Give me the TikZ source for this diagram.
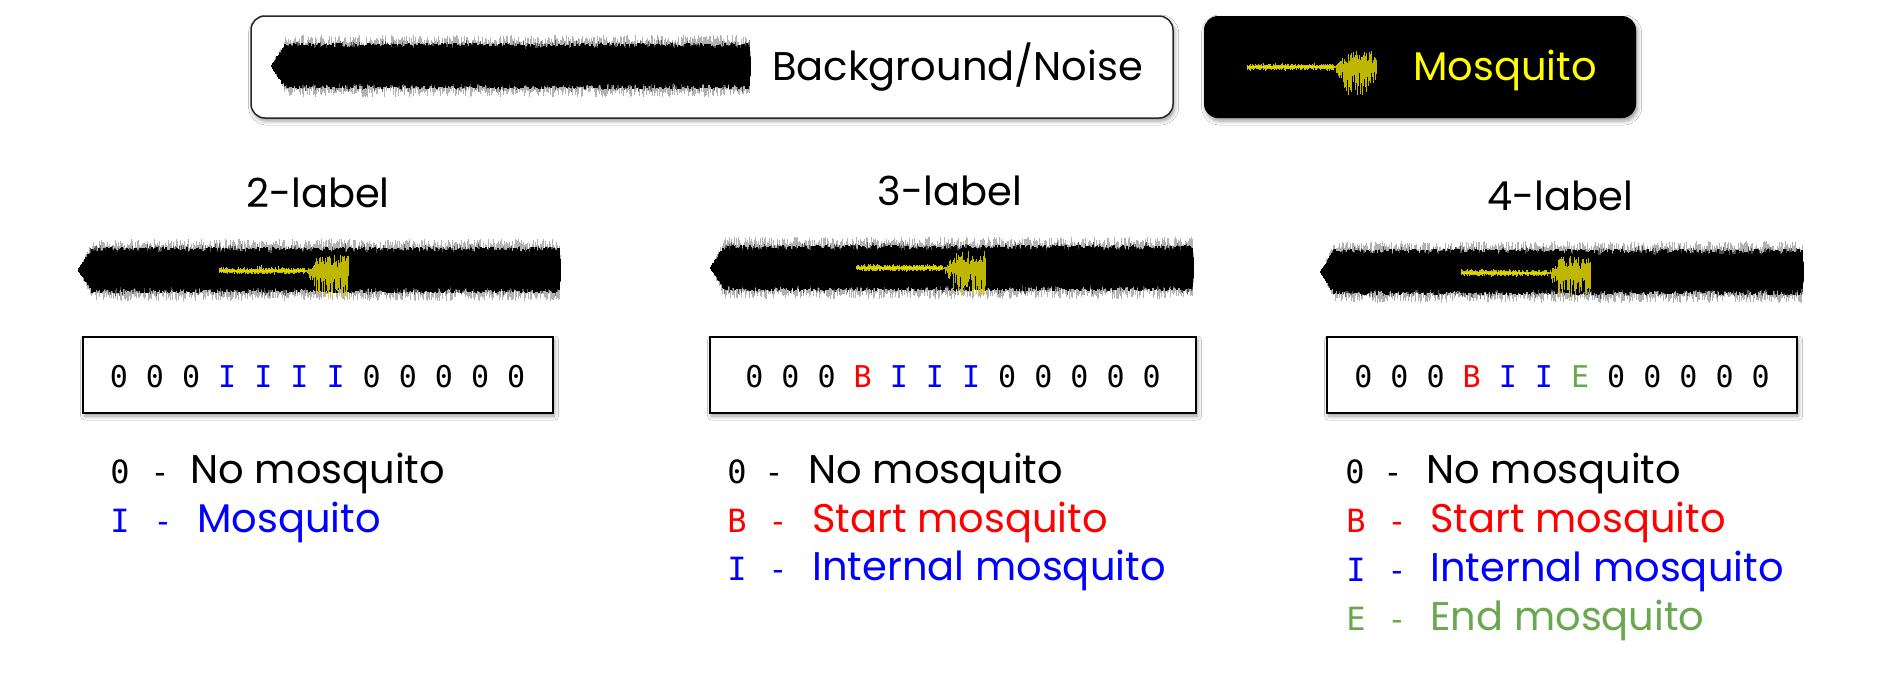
\documentclass[tikz,border=0pt]{standalone}
\usepackage{fontspec}
\setmainfont{Poppins}
\newfontfamily\monof{DejaVu Sans Mono}
\usetikzlibrary{shadows.blur}
\definecolor{ycol}{RGB}{225,215,0}
\definecolor{myyellow}{RGB}{255,255,0}
\definecolor{myred}{RGB}{255,0,0}
\definecolor{myblue}{RGB}{0,0,255}
\definecolor{mygreen}{RGB}{106,168,79}
\tikzset{
  softshadow/.style={blur shadow={shadow xshift=0.8pt, shadow yshift=-1.5pt, shadow blur radius=2pt, shadow opacity=40}},
  seqbox/.style={draw=black, line width=0.75pt, fill=white, minimum height=38pt, inner sep=0pt, softshadow},
  titletext/.style={anchor=base, inner sep=0pt, font=\fontsize{20}{24}\selectfont},
  legtext/.style={anchor=base west, inner sep=0pt, font=\fontsize{20}{24}\selectfont},
  legkey/.style={anchor=base, inner sep=0pt, font=\monof\fontsize{16}{19}\selectfont},
  seqtext/.style={anchor=base, inner sep=0pt, font=\monof\fontsize{15}{18}\selectfont},
}
% noise waveform: #1 x0, #2 length, #3 centre y, #4 seed
\newcommand{\noisewave}[4]{%
  \pgfmathsetseed{#4}%
  \fill[black] (#1,#3) -- ({#1+12},{#3-17}) -- ({#1+#2-1},{#3-17}) -- ({#1+#2},{#3}) -- ({#1+#2-1},{#3+17}) -- ({#1+12},{#3+17}) -- cycle;
  \draw[black, line width=0.45pt, opacity=0.3] foreach \i in {0,...,#2} {({#1+\i},{#3-min(1,\i/14)*min(1,(#2-\i+1)/2)*(21+10*rnd)}) -- ({#1+\i},{#3+min(1,\i/14)*min(1,(#2-\i+1)/2)*(21+10*rnd)})};
  \draw[black, line width=0.45pt, opacity=0.55] foreach \i in {0,...,#2} {({#1+\i},{#3-min(1,\i/14)*min(1,(#2-\i+1)/2)*(19+8*rnd*rnd)}) -- ({#1+\i},{#3+min(1,\i/14)*min(1,(#2-\i+1)/2)*(19+8*rnd*rnd)})};
  \draw[black, line width=0.55pt] foreach \i in {0,...,#2} {({#1+\i},{#3-min(1,\i/14)*min(1,(#2-\i+1)/2)*(17+6*rnd)}) -- ({#1+\i},{#3+min(1,\i/14)*min(1,(#2-\i+1)/2)*(17+6*rnd)})};
}
% mosquito waveform: #1 x0, #2 centre y, #3 seed
\newcommand{\mosqwave}[3]{%
  \pgfmathsetseed{#3}%
  \draw[ycol, line width=0.8pt] (#1,#2) -- ({#1+86},#2);
  \draw[ycol, line width=0.5pt, opacity=0.9] foreach \i in {0,...,86} {({#1+\i},{#2-1-2*rnd-3*rnd*rnd*rnd}) -- ({#1+\i},{#2+1+2*rnd+2*rnd*rnd*rnd})};
  \draw[ycol, line width=0.5pt, opacity=0.85] foreach \i in {0,...,43} {({#1+86+\i},{#2-min(1,\i/14)*(4+13*rnd)}) -- ({#1+86+\i},{#2+min(1,\i/14)*(5+23*rnd)})};
}
\begin{document}
\begin{tikzpicture}[x=0.5pt,y=-0.5pt]
\fill[white] (0,0) rectangle (1890,681);
\useasboundingbox (0,0) rectangle (1890,681);

% top legend boxes
\node[draw={rgb,255:red,40;green,40;blue,40}, line width=0.75pt, fill=white, rounded corners=7pt, minimum width=461pt, minimum height=51pt, inner sep=0pt, softshadow] (bgbox) at (712,67) {};
\node[fill=black, rounded corners=7pt, minimum width=216pt, minimum height=51pt, inner sep=0pt, softshadow] (mqbox) at (1420,67) {};
\noisewave{271}{479}{66}{11}
\mosqwave{1247}{67}{21}
\node[anchor=base west, inner sep=0pt, font=\fontsize{20}{24}\selectfont] (bgtext) at (772,80) {Background/Noise};
\node[anchor=base west, inner sep=0pt, font=\fontsize{20}{24}\selectfont, text=myyellow] (mqtext) at (1413,80) {Mosquito};

% titles
\node[titletext] (t2) at (318,207) {2-label};
\node[titletext] (t3) at (950,205) {3-label};
\node[titletext] (t4) at (1560,210) {4-label};

% waveforms
\noisewave{78}{482}{270}{31}
\mosqwave{219}{271}{41}
\noisewave{710}{483}{268}{51}
\mosqwave{856}{268}{61}
\noisewave{1320}{483}{272}{71}
\mosqwave{1461}{273}{81}

% sequence boxes
\node[seqbox, minimum width=235pt] (s2) at (318,375) {};
\node[seqbox, minimum width=243pt] (s3) at (953,375) {};
\node[seqbox, minimum width=235pt] (s4) at (1562,375) {};
\node[seqtext] (q2) at (317.5,387) {0 0 0 \textcolor{myblue}{I I I I} 0 0 0 0 0};
\node[seqtext] (q3) at (953,387) {0 0 0 \textcolor{myred}{B} \textcolor{myblue}{I I I} 0 0 0 0 0};
\node[seqtext] (q4) at (1562,387) {0 0 0 \textcolor{myred}{B} \textcolor{myblue}{I I} \textcolor{mygreen}{E} 0 0 0 0 0};

% legend 2-label
\node[legkey] (k2a) at (120,483) {0};
\node[legkey] (d2a) at (160,483) {-};
\node[legtext] (l2a) at (190,483) {No mosquito};
\node[legkey, text=myblue] (k2b) at (120,532) {I};
\node[legkey, text=myblue] (d2b) at (163,532) {-};
\node[legtext, text=myblue] (l2b) at (197,532) {Mosquito};

% legend 3-label
\node[legkey] (k3a) at (737,483) {0};
\node[legkey] (d3a) at (774,483) {-};
\node[legtext] (l3a) at (808,483) {No mosquito};
\node[legkey, text=myred] (k3b) at (737,532) {B};
\node[legkey, text=myred] (d3b) at (778,532) {-};
\node[legtext, text=myred] (l3b) at (812,532) {Start mosquito};
\node[legkey, text=myblue] (k3c) at (737,580) {I};
\node[legkey, text=myblue] (d3c) at (778,580) {-};
\node[legtext, text=myblue] (l3c) at (812,580) {Internal mosquito};

% legend 4-label
\node[legkey] (k4a) at (1355,483) {0};
\node[legkey] (d4a) at (1393,483) {-};
\node[legtext] (l4a) at (1426,483) {No mosquito};
\node[legkey, text=myred] (k4b) at (1356,532) {B};
\node[legkey, text=myred] (d4b) at (1397,532) {-};
\node[legtext, text=myred] (l4b) at (1430,532) {Start mosquito};
\node[legkey, text=myblue] (k4c) at (1356,581) {I};
\node[legkey, text=myblue] (d4c) at (1397,581) {-};
\node[legtext, text=myblue] (l4c) at (1430,581) {Internal mosquito};
\node[legkey, text=mygreen] (k4d) at (1356,630) {E};
\node[legkey, text=mygreen] (d4d) at (1397,630) {-};
\node[legtext, text=mygreen] (l4d) at (1430,630) {End mosquito};
\end{tikzpicture}
\end{document}
